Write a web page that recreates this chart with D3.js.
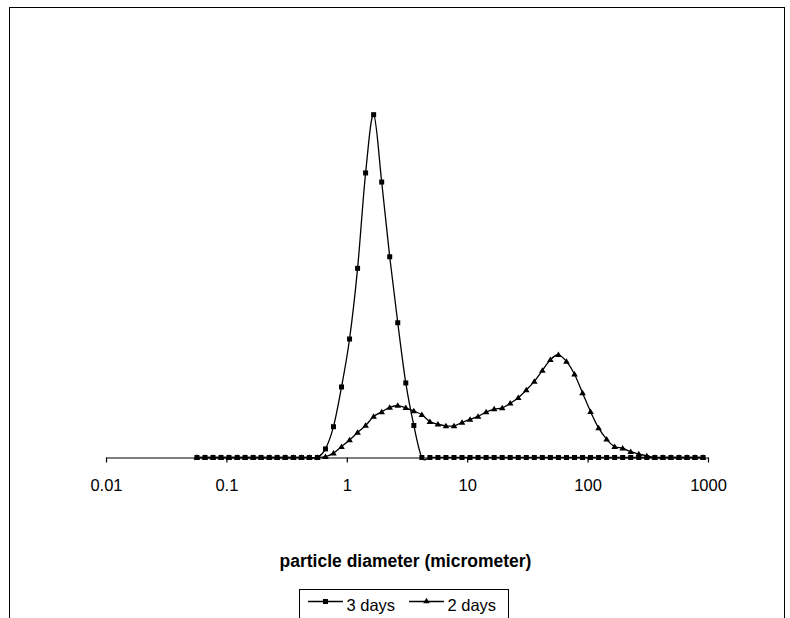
<!DOCTYPE html>
<html>
<head>
<meta charset="utf-8">
<script src="https://cdn.jsdelivr.net/npm/d3@7"></script>
<style>
  body { margin: 0; background: #fff; }
  text { font-family: "Liberation Sans", Arial, sans-serif; fill: #000; }
</style>
</head>
<body>
<script>
  // bin diameters (micrometer)
  const diameters = [
    0.0569, 0.0664, 0.0774, 0.0902, 0.105, 0.123, 0.143, 0.167, 0.194, 0.227,
    0.264, 0.308, 0.360, 0.420, 0.489, 0.570, 0.665, 0.775, 0.904, 1.054,
    1.229, 1.433, 1.671, 1.949, 2.272, 2.650, 3.090, 3.604, 4.202, 4.899,
    5.713, 6.660, 7.768, 9.057, 10.56, 12.31, 14.36, 16.75, 19.53, 22.77,
    26.55, 30.96, 36.10, 42.10, 49.09, 57.23, 66.75, 77.83, 90.76, 105.8,
    123.4, 143.9, 167.8, 195.6, 228.1, 266.1, 310.2, 361.7, 421.7, 491.8,
    573.5, 668.7, 779.8, 909.3
  ];

  // volume % per bin
  const days3 = [
    0, 0, 0, 0, 0, 0, 0, 0, 0, 0,
    0, 0, 0, 0, 0, 0, 0.49, 1.76, 4.03, 6.77,
    10.81, 16.26, 19.59, 15.74, 11.47, 7.70, 4.26, 1.83, 0, 0,
    0, 0, 0, 0, 0, 0, 0, 0, 0, 0,
    0, 0, 0, 0, 0, 0, 0, 0, 0, 0,
    0, 0, 0, 0, 0, 0, 0, 0, 0, 0,
    0, 0, 0, 0
  ];

  const days2 = [
    0, 0, 0, 0, 0, 0, 0, 0, 0, 0,
    0, 0, 0, 0, 0, 0, 0.05, 0.25, 0.62, 1.00,
    1.43, 1.83, 2.34, 2.61, 2.86, 2.97, 2.84, 2.66, 2.44, 2.05,
    1.90, 1.81, 1.81, 2.00, 2.18, 2.35, 2.60, 2.77, 2.83, 3.10,
    3.42, 3.86, 4.35, 4.98, 5.59, 5.87, 5.49, 4.76, 3.69, 2.62,
    1.69, 1.04, 0.62, 0.53, 0.33, 0.20, 0.09, 0, 0, 0,
    0, 0, 0, 0
  ];

  const tickValues = [0.01, 0.1, 1, 10, 100, 1000];
  const seriesNames = ["3 days", "2 days"];

  const width = 790, height = 618;

  const x = d3.scaleLog()
    .domain([0.01, 1000])
    .range([106, 708]);

  const y = d3.scaleLinear()
    .domain([0, 25])
    .range([457.5, 20]);

  const svg = d3.select("body")
    .append("svg")
      .attr("width", width)
      .attr("height", height);

  // outer chart frame
  svg.append("rect")
    .attr("x", 9.5)
    .attr("y", 7.5)
    .attr("width", 775)
    .attr("height", 700)
    .attr("fill", "none")
    .attr("stroke", "#000")
    .attr("stroke-width", 1);

  // x axis
  const xAxis = d3.axisBottom(x)
    .tickValues(tickValues)
    .tickFormat(d => String(d))
    .tickSize(5)
    .tickSizeOuter(0);

  const gx = svg.append("g")
    .attr("transform", `translate(0, ${y(0)})`)
    .call(xAxis);
  gx.select(".domain").attr("stroke", "#000").attr("stroke-width", 1.2);
  gx.selectAll(".tick line").attr("stroke", "#000").attr("stroke-width", 1.2);
  gx.selectAll(".tick text")
    .attr("y", 33.5)
    .attr("dy", null)
    .style("font-size", "16.5px")
    .style("font-family", "'Liberation Sans', Arial, sans-serif");

  // axis title
  svg.append("text")
    .attr("x", 405.5)
    .attr("y", 567)
    .attr("text-anchor", "middle")
    .style("font-size", "17.5px")
    .style("font-weight", "bold")
    .text("particle diameter (micrometer)");

  const line = d3.line()
    .x(d => x(d[0]))
    .y(d => y(d[1]))
    .curve(d3.curveCardinal.tension(0));

  const pts3 = diameters.map((d, i) => [d, days3[i]]);
  const pts2 = diameters.map((d, i) => [d, days2[i]]);

  const triPath = "M0,-3.2L3.3,2.3L-3.3,2.3Z";

  // series 1: 3 days
  svg.append("path")
    .datum(pts3)
    .attr("d", line)
    .attr("fill", "none")
    .attr("stroke", "#000")
    .attr("stroke-width", 1.3);
  svg.selectAll("rect.sq")
    .data(pts3)
    .enter().append("rect")
      .attr("class", "sq")
      .attr("x", d => x(d[0]) - 2.5)
      .attr("y", d => y(d[1]) - 2.5)
      .attr("width", 5)
      .attr("height", 5)
      .attr("fill", "#000");

  // series 2: 2 days
  svg.append("path")
    .datum(pts2)
    .attr("d", line)
    .attr("fill", "none")
    .attr("stroke", "#000")
    .attr("stroke-width", 1.3);
  svg.selectAll("path.tri")
    .data(pts2)
    .enter().append("path")
      .attr("class", "tri")
      .attr("d", triPath)
      .attr("transform", d => `translate(${x(d[0])}, ${y(d[1])})`)
      .attr("fill", "#000");

  // legend
  const lg = svg.append("g");
  lg.append("rect")
    .attr("x", 299.5)
    .attr("y", 589.5)
    .attr("width", 209)
    .attr("height", 40)
    .attr("fill", "#fff")
    .attr("stroke", "#000")
    .attr("stroke-width", 1);

  const legendX = [308, 409];
  seriesNames.forEach((name, i) => {
    const lx = legendX[i];
    lg.append("line")
      .attr("x1", lx).attr("x2", lx + 35)
      .attr("y1", 601.5).attr("y2", 601.5)
      .attr("stroke", "#000")
      .attr("stroke-width", 1.3);
    if (i === 0) {
      lg.append("rect")
        .attr("x", lx + 17.5 - 2.5).attr("y", 599)
        .attr("width", 5).attr("height", 5)
        .attr("fill", "#000");
    } else {
      lg.append("path")
        .attr("d", triPath)
        .attr("transform", `translate(${lx + 17.5}, 601)`)
        .attr("fill", "#000");
    }
    lg.append("text")
      .attr("x", lx + 38.5)
      .attr("y", 611)
      .style("font-size", "16.5px")
      .text(name);
  });
</script>
</body>
</html>
